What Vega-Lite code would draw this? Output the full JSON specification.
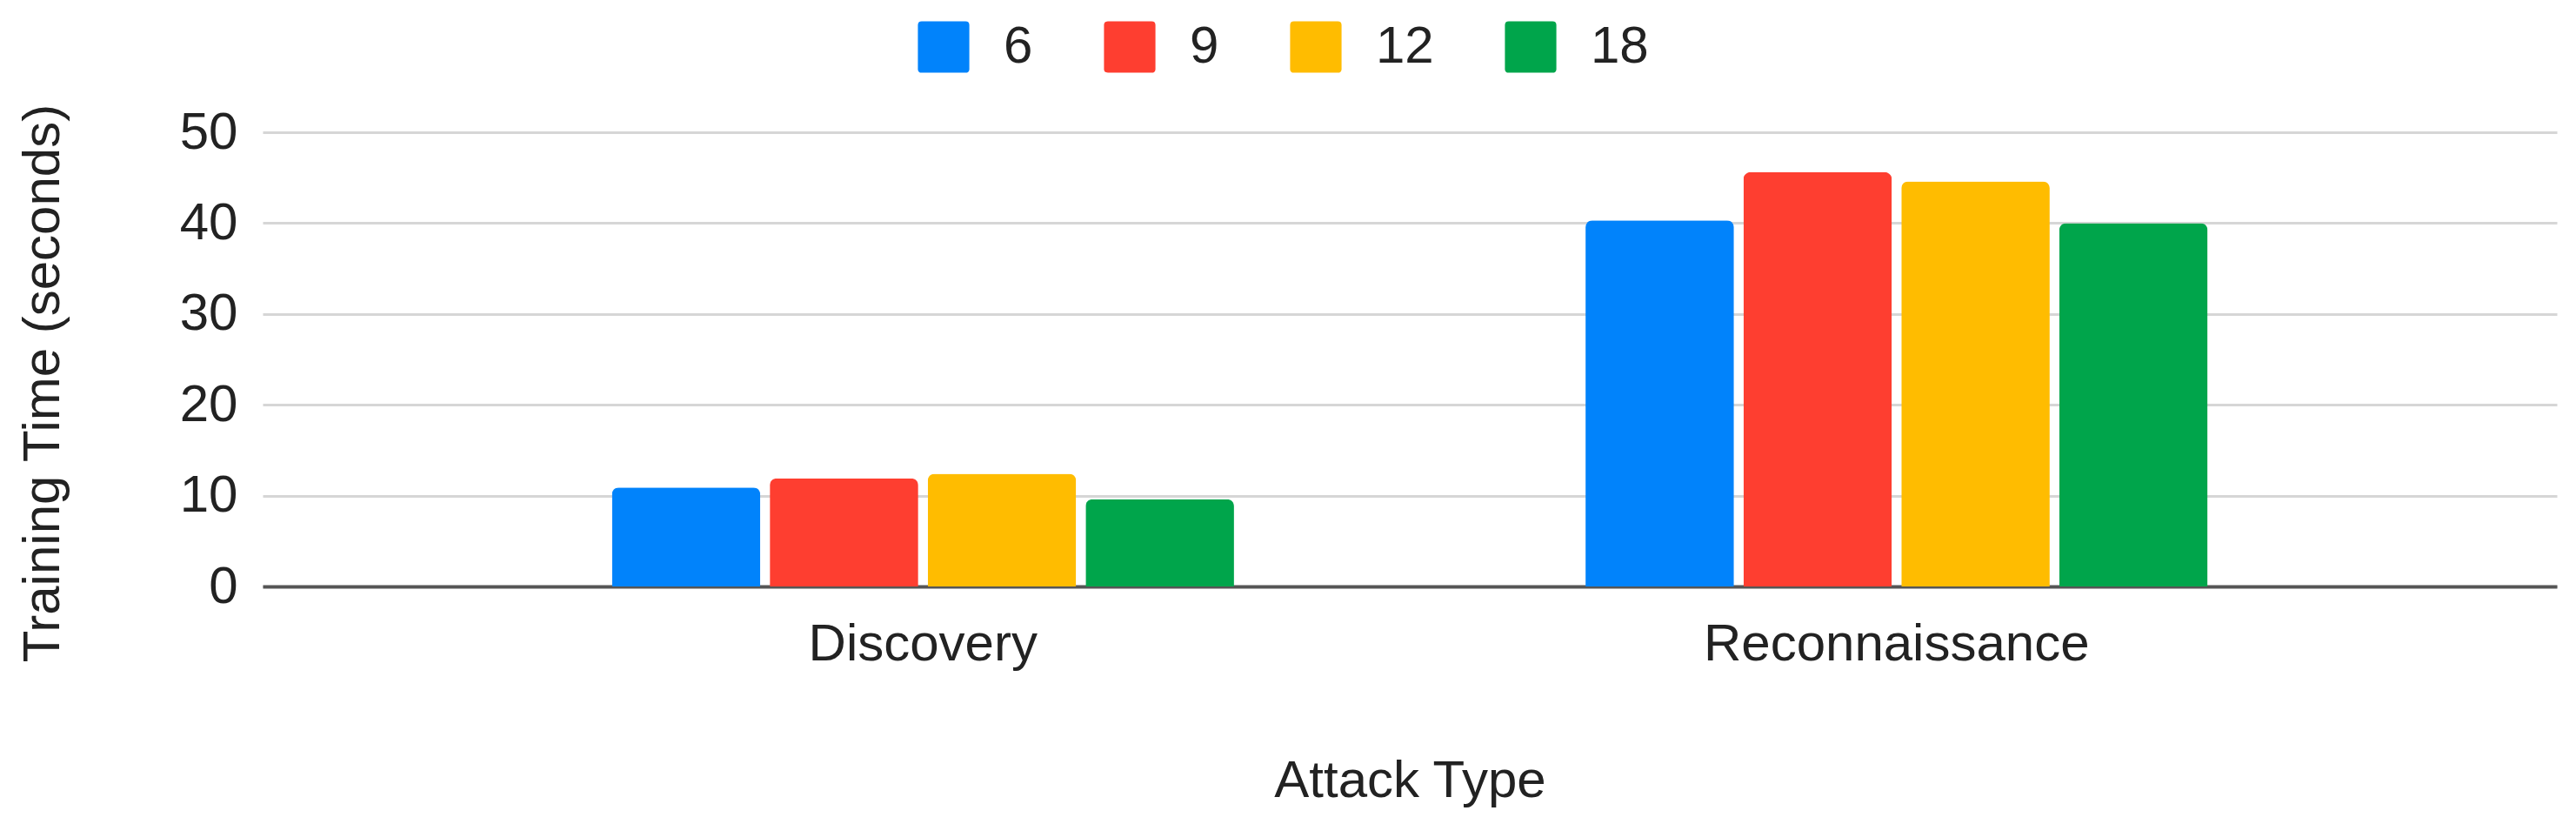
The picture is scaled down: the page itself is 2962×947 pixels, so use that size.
{
  "$schema": "https://vega.github.io/schema/vega-lite/v6.json",
  "autosize": {"type": "none"},
  "width": 2638,
  "height": 522,
  "padding": {"left": 302, "top": 152, "right": 22, "bottom": 273},
  "background": "white",
  "config": {
    "view": {"stroke": null},
    "font": "Liberation Sans",
    "text": {"font": "Liberation Sans"}
  },
  "data": {
    "values": [
      {"attack": "Discovery", "nodes": "6", "time": 10.9},
      {"attack": "Discovery", "nodes": "9", "time": 11.9},
      {"attack": "Discovery", "nodes": "12", "time": 12.4},
      {"attack": "Discovery", "nodes": "18", "time": 9.6},
      {"attack": "Reconnaissance", "nodes": "6", "time": 40.3},
      {"attack": "Reconnaissance", "nodes": "9", "time": 45.6},
      {"attack": "Reconnaissance", "nodes": "12", "time": 44.6},
      {"attack": "Reconnaissance", "nodes": "18", "time": 40.0}
    ]
  },
  "mark": {"type": "bar", "cornerRadiusTopLeft": 8, "cornerRadiusTopRight": 8},
  "encoding": {
    "x": {
      "field": "attack",
      "type": "nominal",
      "sort": ["Discovery", "Reconnaissance"],
      "scale": {"paddingInner": 0.361, "paddingOuter": 0.3587},
      "axis": {
        "title": "Attack Type",
        "labelAngle": 0,
        "labelLimit": 0,
        "labelFont": "Liberation Sans",
        "labelFontSize": 60,
        "labelColor": "#222222",
        "labelPadding": 37,
        "ticks": false,
        "tickSize": 0,
        "domainColor": "#555555",
        "domainWidth": 4,
        "titleFont": "Liberation Sans",
        "titleFontSize": 60,
        "titleFontWeight": "normal",
        "titleColor": "#222222",
        "titleY": 194,
        "titleBaseline": "top"
      }
    },
    "xOffset": {
      "field": "nodes",
      "type": "nominal",
      "sort": ["6", "9", "12", "18"],
      "scale": {"paddingInner": 0.06, "paddingOuter": 0}
    },
    "y": {
      "field": "time",
      "type": "quantitative",
      "scale": {"domain": [0, 50], "nice": false},
      "axis": {
        "title": "Training Time (seconds)",
        "values": [0, 10, 20, 30, 40, 50],
        "labelFont": "Liberation Sans",
        "labelFontSize": 60,
        "labelColor": "#222222",
        "labelPadding": 29,
        "ticks": false,
        "tickSize": 0,
        "domain": false,
        "gridColor": "#d6d6d6",
        "gridWidth": 3,
        "titleFont": "Liberation Sans",
        "titleFontSize": 60,
        "titleFontWeight": "normal",
        "titleColor": "#222222",
        "titleLimit": 0,
        "titleX": -222,
        "titleY": 288,
        "titleAngle": -90,
        "titleAlign": "center",
        "titleBaseline": "bottom"
      }
    },
    "color": {
      "field": "nodes",
      "type": "nominal",
      "scale": {
        "domain": ["6", "9", "12", "18"],
        "range": ["#0183FB", "#FE3E30", "#FFBC00", "#00A54B"]
      },
      "legend": {
        "title": null,
        "orient": "none",
        "direction": "horizontal",
        "legendX": 753,
        "legendY": -128,
        "padding": 0,
        "symbolType": "M-0.85,-1H0.85Q1,-1 1,-0.85V0.85Q1,1 0.85,1H-0.85Q-1,1 -1,0.85V-0.85Q-1,-1 -0.85,-1Z",
        "symbolSize": 3500,
        "symbolStrokeWidth": 0,
        "symbolOpacity": 1,
        "labelFont": "Liberation Sans",
        "labelFontSize": 60,
        "labelColor": "#222222",
        "labelOffset": 39,
        "columnPadding": 81
      }
    }
  }
}
